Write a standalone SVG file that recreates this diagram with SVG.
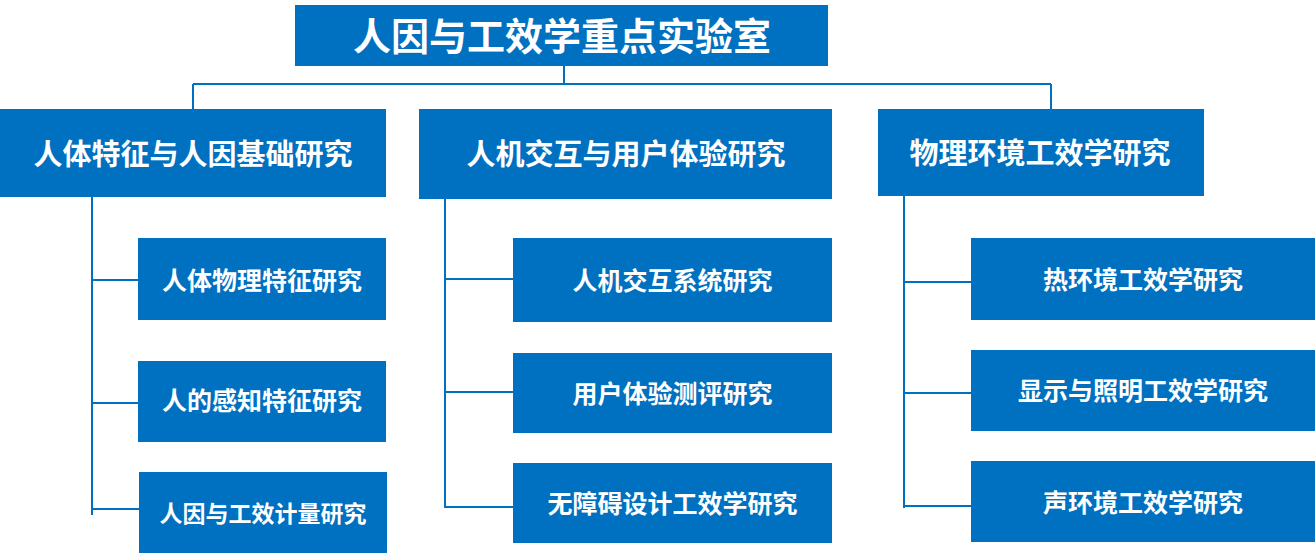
<svg xmlns="http://www.w3.org/2000/svg" width="1315" height="553" viewBox="0 0 1315 553">
<style>
.box{fill:#0070C0}
.t{fill:#FFFFFF;font-family:"Noto Sans CJK SC","Microsoft YaHei",sans-serif;font-weight:700;text-anchor:middle}
.l0{font-size:38px}
.l1{font-size:29px}
.l2{font-size:25px}
.l2s{font-size:23px}
.c{stroke:#0070C0;stroke-width:2;fill:none}
</style>
<rect width="1315" height="553" fill="#FFFFFF"/>
<g id="connectors">
<path class="c" d="M564,66 V84 M193,84 H1051 M193,84 V109 M1051,84 V109"/>
<path class="c" d="M92,197 V515 M92,280 H138 M92,403 H138 M92,509 H139"/>
<path class="c" d="M445,199 V508 M445,279 H513 M445,392 H513 M445,507 H513"/>
<path class="c" d="M904,196 V508 M904,282 H971 M904,393 H971 M904,506 H971"/>
</g>
<g id="root"><rect class="box" x="295" y="5" width="533" height="61"/><text class="t l0" x="562" y="50">人因与工效学重点实验室</text></g>
<g id="n1"><rect class="box" x="0" y="109" width="386" height="88"/><text class="t l1" x="193" y="164.5">人体特征与人因基础研究</text></g>
<g id="n2"><rect class="box" x="419" y="109" width="413" height="90"/><text class="t l1" x="626" y="164.5">人机交互与用户体验研究</text></g>
<g id="n3"><rect class="box" x="878" y="109" width="326" height="87"/><text class="t l1" x="1040" y="163.5">物理环境工效学研究</text></g>
<g id="n1a"><rect class="box" x="138" y="238" width="248" height="82"/><text class="t l2" x="262" y="289.5">人体物理特征研究</text></g>
<g id="n1b"><rect class="box" x="138" y="361" width="248" height="81"/><text class="t l2" x="262" y="410">人的感知特征研究</text></g>
<g id="n1c"><rect class="box" x="139" y="472" width="248" height="81"/><text class="t l2s" x="263" y="521.5">人因与工效计量研究</text></g>
<g id="n2a"><rect class="box" x="513" y="238" width="319" height="84"/><text class="t l2" x="672.5" y="289.5">人机交互系统研究</text></g>
<g id="n2b"><rect class="box" x="513" y="353" width="319" height="80"/><text class="t l2" x="672.5" y="403">用户体验测评研究</text></g>
<g id="n2c"><rect class="box" x="513" y="463" width="319" height="80"/><text class="t l2" x="672.5" y="513">无障碍设计工效学研究</text></g>
<g id="n3a"><rect class="box" x="971" y="238" width="344" height="82"/><text class="t l2" x="1143" y="288.5">热环境工效学研究</text></g>
<g id="n3b"><rect class="box" x="971" y="350" width="344" height="81"/><text class="t l2" x="1143" y="399.5">显示与照明工效学研究</text></g>
<g id="n3c"><rect class="box" x="971" y="461" width="344" height="81"/><text class="t l2" x="1143" y="512">声环境工效学研究</text></g>
</svg>
